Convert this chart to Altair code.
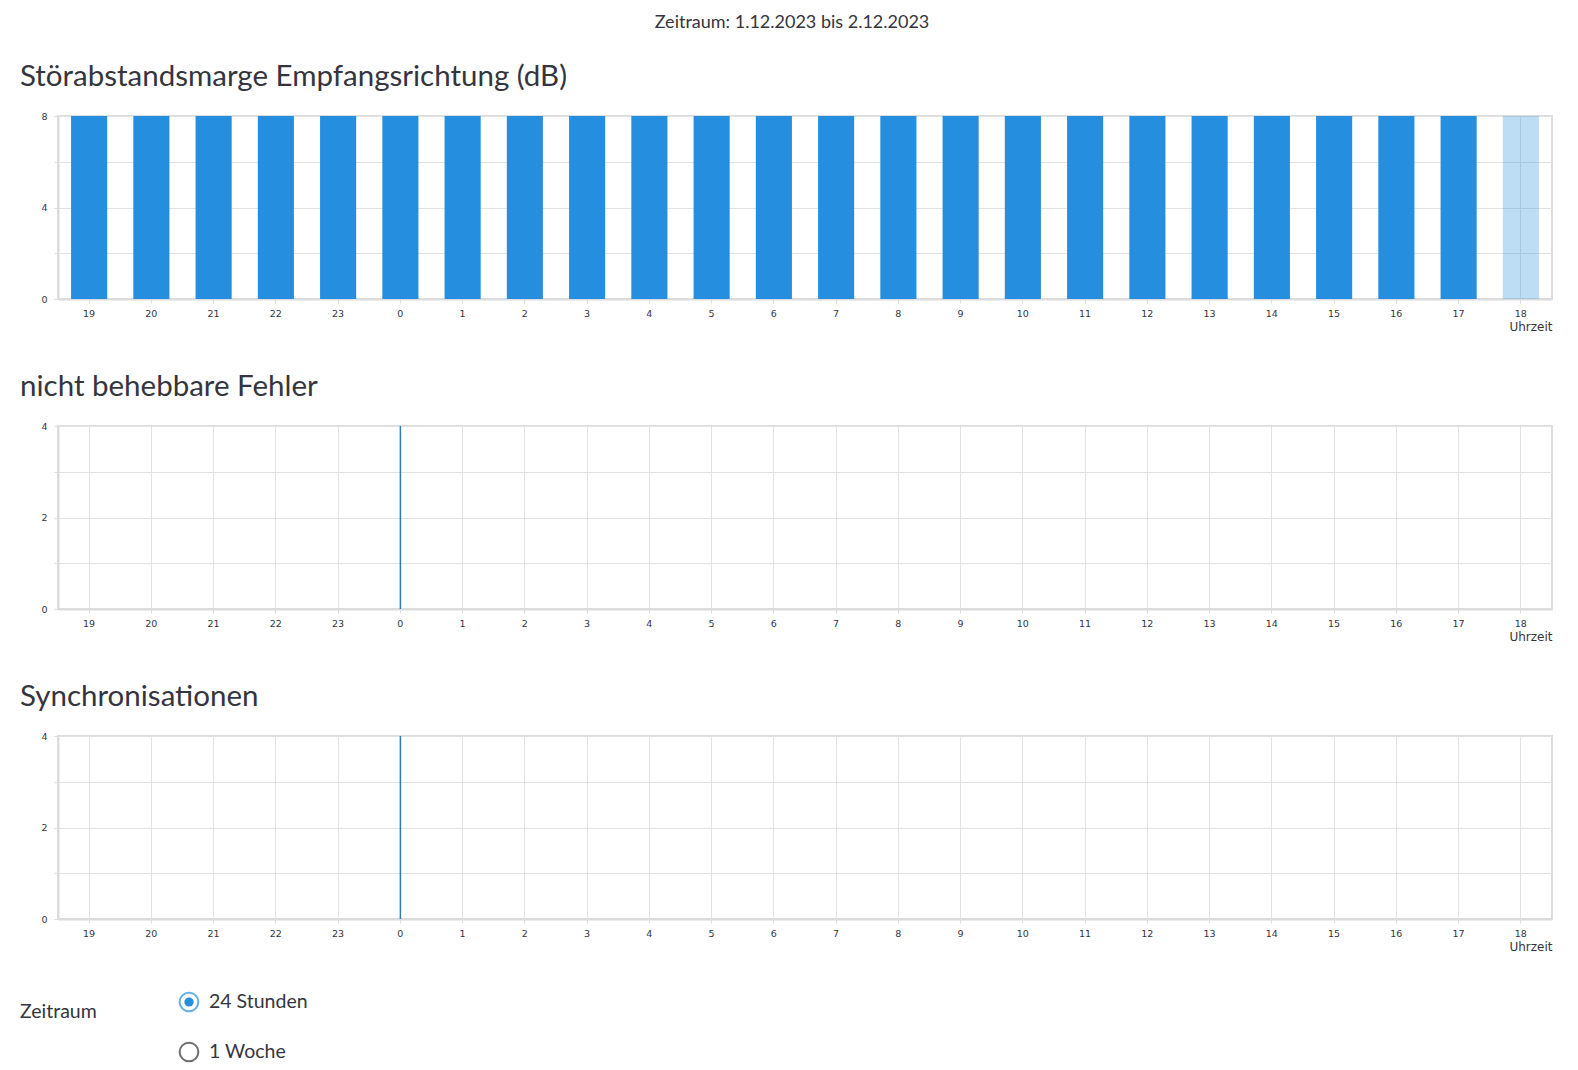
import altair as alt
import pandas as pd

# ---------------- data ----------------
hours = ["19", "20", "21", "22", "23", "0", "1", "2", "3", "4", "5", "6",
         "7", "8", "9", "10", "11", "12", "13", "14", "15", "16", "17", "18"]
snr_values = [8, 8, 8, 8, 8, 8, 8, 8, 8, 8, 8, 8,
              8, 8, 8, 8, 8, 8, 8, 8, 8, 8, 8, 8]
snr_current = [False] * 23 + [True]
error_values = [0] * 24
sync_values = [0] * 24
midnight_hour = ["0"]
midnight_low = [0]
midnight_high = [4]

period_title = "Zeitraum: 1.12.2023 bis 2.12.2023"
panel_titles = ["Störabstandsmarge Empfangsrichtung (dB)",
                "nicht behebbare Fehler",
                "Synchronisationen"]
x_axis_title = "Uhrzeit"
range_label = "Zeitraum"
range_options = ["24 Stunden", "1 Woche"]
range_selected = [True, False]

# ---------------- style ----------------
BLUE = "#268ede"
LINE_BLUE = "#2b7bbb"
TEXT = "#35353d"
GRID = "#e2e2e2"
AXIS = "#dcdcdc"
TITLE_FONT = "Lato"
TICK_FONT = "DejaVu Sans"
W, H = 1494, 183

x_scale = alt.Scale(domain=hours, paddingInner=0.42, paddingOuter=0.21)


def x_enc():
    return alt.X(
        "hour:N", sort=hours, scale=x_scale,
        axis=alt.Axis(
            title=x_axis_title, labelAngle=0, labelFont=TICK_FONT,
            labelFontSize=9.5, labelColor=TEXT, labelPadding=5,
            tickColor=AXIS, tickSize=4, domainColor=AXIS, domainWidth=2,
            grid=True, gridColor=GRID,
            titleFont=TICK_FONT, titleFontSize=12, titleFontWeight="normal",
            titleColor=TEXT, titleAlign="right", titleAnchor="end",
            titleX=W, titleY=27, titleBaseline="middle",
        ),
    )


def y_enc(field, ymax, step_vals, label_step):
    return alt.Y(
        f"{field}:Q", scale=alt.Scale(domain=[0, ymax], nice=False),
        axis=alt.Axis(
            title=None, values=step_vals,
            labelExpr=f"datum.value % {label_step} == 0 ? datum.label : ''",
            labelFont=TICK_FONT, labelFontSize=9.5, labelColor=TEXT,
            labelPadding=7, tickColor=AXIS, tickSize=4,
            domainColor=AXIS, domainWidth=2, grid=True, gridColor=GRID,
        ),
    )


def panel_title(text):
    return alt.TitleParams(
        text, anchor="start", frame="group", dx=-38, fontSize=29.5,
        font=TITLE_FONT, fontWeight="normal", color=TEXT, offset=19,
    )


# Panel 1: SNR margin bars
snr_df = pd.DataFrame({"hour": hours, "value": snr_values, "current": snr_current})
p1 = alt.Chart(snr_df).mark_bar(color=BLUE).encode(
    x=x_enc(),
    y=y_enc("value", 8, [0, 2, 4, 6, 8], 4),
    opacity=alt.condition(alt.datum.current, alt.value(0.3), alt.value(1.0)),
).properties(width=W, height=H, title=panel_title(panel_titles[0]))


def count_panel(values, title):
    df = pd.DataFrame({"hour": hours, "value": values})
    mid = pd.DataFrame({"hour": midnight_hour, "lo": midnight_low, "hi": midnight_high})
    bars = alt.Chart(df).mark_bar(color=BLUE).encode(
        x=x_enc(), y=y_enc("value", 4, [0, 1, 2, 3, 4], 2))
    rule = alt.Chart(mid).mark_rule(color=LINE_BLUE, strokeWidth=1.5).encode(
        x=alt.X("hour:N", sort=hours, scale=x_scale), y="lo:Q", y2="hi:Q")
    return alt.layer(bars, rule).properties(width=W, height=H, title=panel_title(title))


p2 = count_panel(error_values, panel_titles[1])
p3 = count_panel(sync_values, panel_titles[2])

# Radio-button group
radio_df = pd.DataFrame({"option": range_options, "selected": range_selected})
ry = alt.Y("option:N", sort=range_options, axis=None, scale=alt.Scale(padding=0))
ring = alt.Chart(radio_df).mark_point(shape="circle", size=350, strokeWidth=2, filled=False).encode(
    x=alt.value(131), y=ry,
    color=alt.condition(alt.datum.selected, alt.value(BLUE), alt.value("#333333")),
)
dot = alt.Chart(radio_df).transform_filter(alt.datum.selected).mark_point(
    shape="circle", size=85, filled=True, color=BLUE, opacity=1).encode(x=alt.value(131), y=ry)
opt_text = alt.Chart(radio_df).mark_text(
    align="left", baseline="middle", font=TITLE_FONT, fontSize=19.5, color=TEXT).encode(
    x=alt.value(151), y=ry, text="option:N")
lab_df = pd.DataFrame({"label": [range_label]})
lab_text = alt.Chart(lab_df).mark_text(
    align="left", baseline="middle", font=TITLE_FONT, fontSize=19.5, color=TEXT).encode(
    x=alt.value(-38), y=alt.value(9.5), text="label:N")
radio = alt.layer(ring, dot, opt_text, lab_text).properties(
    width=W, height=50, view=alt.ViewBackground(stroke="transparent"))

panels = alt.vconcat(p1, p2, p3, spacing=37)
chart = alt.vconcat(panels, radio, spacing=34).properties(
    title=alt.TitleParams(period_title, anchor="middle", fontSize=18, font=TITLE_FONT,
                          fontWeight="normal", color=TEXT, offset=29, dx=6),
    padding={"left": 11, "top": 5, "right": 5, "bottom": 5},
).configure_view(stroke=AXIS, strokeWidth=2).configure_axis(
    labelFont=TICK_FONT
)

chart.save("out.html", embed_options={"renderer": "svg", "actions": False})
